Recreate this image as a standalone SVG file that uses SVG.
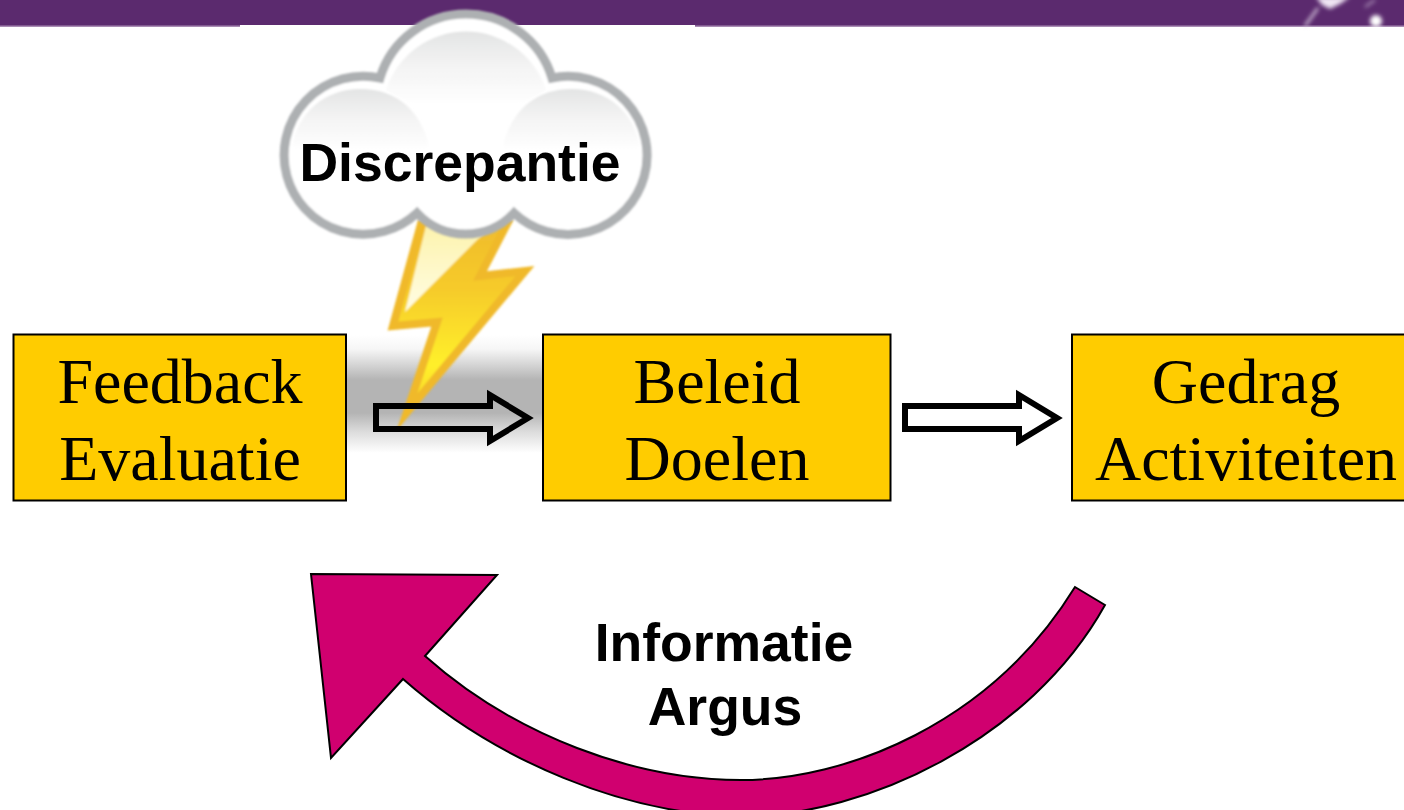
<svg xmlns="http://www.w3.org/2000/svg" width="1404" height="810" viewBox="0 0 1404 810">
<style>
.box{fill:#ffcc00;stroke:#000;stroke-width:2}
.ser{font-family:"Liberation Serif","Times New Roman",serif;font-size:64px;fill:#000;text-anchor:middle}
.san{font-family:"Liberation Sans",Arial,sans-serif;font-weight:700;fill:#000;text-anchor:middle;font-size:53.500px}
.hollow{stroke:#000;stroke-width:6;stroke-linejoin:miter;stroke-miterlimit:8}
</style>
<defs>
<linearGradient id="shadow" x1="0" y1="0" x2="0" y2="1">
<stop offset="0" stop-color="#fff"/><stop offset="0.12" stop-color="#f6f6f6"/><stop offset="0.24" stop-color="#d8d8d8"/><stop offset="0.38" stop-color="#b4b4b4"/><stop offset="0.66" stop-color="#b4b4b4"/><stop offset="0.82" stop-color="#dcdcdc"/><stop offset="1" stop-color="#fff"/>
</linearGradient>
<linearGradient id="lobe" x1="0" y1="0" x2="0" y2="1">
<stop offset="0" stop-color="#e3e4e4"/><stop offset="0.45" stop-color="#f3f3f3"/><stop offset="1" stop-color="#fff"/>
</linearGradient>
<linearGradient id="bolt" x1="0" y1="0" x2="0" y2="1">
<stop offset="0" stop-color="#f0bc2e"/><stop offset="0.35" stop-color="#f6cb29"/><stop offset="0.75" stop-color="#fff02a"/><stop offset="1" stop-color="#f8d02c"/>
</linearGradient>
<linearGradient id="gloss" x1="0" y1="0" x2="0" y2="1">
<stop offset="0" stop-color="#fdf3ae"/><stop offset="1" stop-color="#fffde4"/>
</linearGradient>
<filter id="soft" x="-20%" y="-20%" width="140%" height="140%"><feGaussianBlur stdDeviation="0.9"/></filter>
<filter id="glow" x="-60%" y="-60%" width="220%" height="220%"><feGaussianBlur stdDeviation="2"/></filter>
</defs>

<g id="header">
<rect x="0" y="0" width="1404" height="27" fill="#5b2a6e"/>
<rect x="0" y="25.500" width="1404" height="1.500" fill="#a98cb4"/>
<rect x="240" y="25" width="455" height="3" fill="#fff"/>
<g filter="url(#glow)" fill="#fff">
<path d="M1305 26L1318 8" stroke="#d9cbe0" stroke-width="2.500" fill="none"/>
<path d="M1365 7L1375 0" stroke="#b9a3c4" stroke-width="2" fill="none"/>
<path d="M1316 -3L1350 -3L1340 4L1330 9L1322 5Z" fill="#f0e6f4"/>
<ellipse cx="1376" cy="21" rx="6" ry="6"/>
</g>
</g>

<g id="shadow-band"><rect x="347" y="335" width="196" height="118" fill="url(#shadow)"/></g>

<g id="lightning" filter="url(#soft)">
<path d="M421 224L393 326L437 322L407 412L525 271L480 276L507 224Z" fill="url(#bolt)" stroke="#f0b92c" stroke-width="8" stroke-linejoin="miter" stroke-miterlimit="12"/>
<path d="M426 226L405 312L477 240L492 226Z" fill="url(#gloss)"/>
</g>

<g id="cloud">
<path id="cloud-shape" d="M380 78A89.800 89.800 0 0 1 552 78A79 79 0 1 1 514 213A66.500 66.500 0 0 1 417 213A79 79 0 1 1 380 78Z" fill="#fff" stroke="#adb0b2" stroke-width="9" filter="url(#soft)"/>
<path d="M386 90A84 84 0 0 1 546 90L520 105L412 105Z" fill="url(#lobe)" filter="url(#soft)"/>
<path d="M292 150C296 112 326 89 360 89C398 89 422 112 430 150Z" fill="#fff"/>
<path d="M292 150C296 112 326 89 360 89C398 89 422 112 430 150Z" fill="url(#lobe)" filter="url(#soft)"/>
<path d="M640 150C636 112 606 89 572 89C534 89 510 112 502 150Z" fill="#fff"/>
<path d="M640 150C636 112 606 89 572 89C534 89 510 112 502 150Z" fill="url(#lobe)" filter="url(#soft)"/>
<text class="san" x="460" y="181">Discrepantie</text>
</g>

<g id="feedback">
<rect class="box" x="13.500" y="334.500" width="332.500" height="166"/>
<text class="ser" x="180" y="402.500">Feedback</text>
<text class="ser" x="180" y="479.500">Evaluatie</text>
</g>
<g id="beleid">
<rect class="box" x="543" y="334.500" width="347.500" height="166"/>
<text class="ser" x="717" y="402.500">Beleid</text>
<text class="ser" x="717" y="479.500">Doelen</text>
</g>
<g id="gedrag">
<rect class="box" x="1072" y="334.500" width="340" height="166"/>
<text class="ser" x="1246" y="402.500">Gedrag</text>
<text class="ser" x="1246" y="479.500">Activiteiten</text>
</g>

<g id="connectors">
<path class="hollow" fill="none" d="M376 406H490V395L528 418L490 441V429H376Z"/>
<path class="hollow" fill="#fff" d="M905 406H1019V395L1057 418L1019 441V429H905Z"/>
<path id="feedback-loop" d="M311 574L497 575L425 656C515 736 635 780 741 780C845 780 990 725 1075 587L1105 605C1030 740 865 816 745 816C625 816 495 760 403 679L331 758Z" fill="#d0006f" stroke="#000" stroke-width="2" stroke-linejoin="miter"/>
</g>

<g id="loop-label">
<text class="san" x="724" y="661">Informatie</text>
<text class="san" x="725" y="725">Argus</text>
</g>
</svg>
